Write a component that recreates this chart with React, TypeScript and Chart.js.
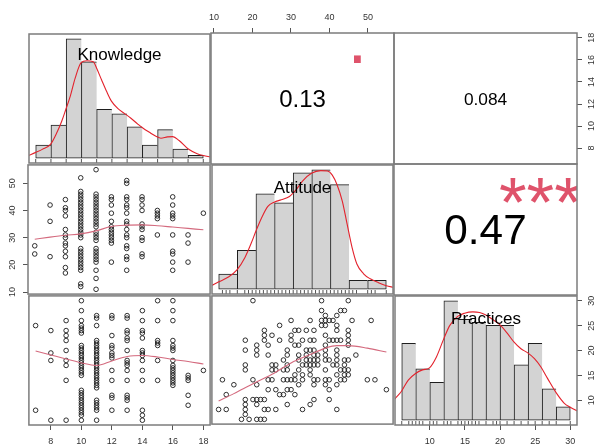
import React, { useEffect, useRef } from 'react';
import { Chart, registerables } from 'chart.js';

Chart.register(...registerables);

const FONT = '"Liberation Sans", Arial, Helvetica, sans-serif';
Chart.defaults.font.family = FONT;

// ---------------- DATA ----------------
const variableNames = ['Knowledge', 'Attitude', 'Practices'];

// axis tick labels
const knowledgeTicks = [8, 10, 12, 14, 16, 18];
const attitudeTicks = [10, 20, 30, 40, 50];
const practicesTicks = [10, 15, 20, 25, 30];

// correlations (upper panels)
const corrKnowledgeAttitude = '0.13';
const corrKnowledgePractices = '0.084';
const corrAttitudePractices = '0.47';
const signifKnowledgeAttitude = '.';
const signifKnowledgePractices = '';
const signifAttitudePractices = '***';

// histograms (density) and kernel density curves
const knowledgeBreaks = [7, 8, 9, 10, 11, 12, 13, 14, 15, 16, 17, 18];
const knowledgeHist = [0.0297, 0.0753, 0.271, 0.2189, 0.111, 0.1005, 0.0715, 0.0297, 0.0648, 0.0208, 0.0067];
const knowledgeCurveX = [6.56, 6.97, 7.43, 7.97, 8.4, 8.72, 8.98, 9.27, 9.59, 9.98, 10.35, 10.78, 11.0, 11.32, 11.65, 11.97, 12.4, 12.84, 13.27, 13.7, 14.03, 14.46, 14.89, 15.22, 15.65, 16.0, 16.41, 16.99, 17.6, 18.01, 18.46];
const knowledgeCurveY = [0.0067, 0.0127, 0.0201, 0.0313, 0.0588, 0.0849, 0.111, 0.1408, 0.1817, 0.2167, 0.2212, 0.2189, 0.204, 0.178, 0.1519, 0.1296, 0.1124, 0.1013, 0.0901, 0.0775, 0.0685, 0.0588, 0.0499, 0.0454, 0.0484, 0.0491, 0.0402, 0.0216, 0.0104, 0.006, 0.003];

const attitudeBreaks = [10, 15, 20, 25, 30, 35, 40, 45, 50, 55];
const attitudeHist = [0.0051, 0.0131, 0.0321, 0.0291, 0.0392, 0.0402, 0.0352, 0.003, 0.003];
const attitudeCurveX = [8.2, 9.88, 12.6, 14.9, 17.05, 18.8, 20.0, 21.5, 23.2, 24.9, 26.8, 29.0, 30.8, 32.5, 34.9, 37.4, 39.2, 40.5, 41.8, 43.2, 44.5, 45.8, 47.1, 48.9, 50.7, 52.9, 55.0, 57.0];
const attitudeCurveY = [0.0013, 0.0024, 0.0041, 0.0065, 0.0107, 0.0157, 0.0196, 0.024, 0.0279, 0.0293, 0.0301, 0.0312, 0.0335, 0.0364, 0.039, 0.0399, 0.0398, 0.0384, 0.0351, 0.0296, 0.0218, 0.0141, 0.0085, 0.0052, 0.0035, 0.0022, 0.0012, 0.0006];

const practicesBreaks = [6, 8, 10, 12, 14, 16, 18, 20, 22, 24, 26, 28, 30];
const practicesHist = [0.0452, 0.0302, 0.0223, 0.0702, 0.0593, 0.0575, 0.0557, 0.0557, 0.0325, 0.0452, 0.0185, 0.0078];
const practicesCurveX = [5.04, 5.94, 6.93, 7.97, 8.96, 9.95, 10.94, 11.98, 12.83, 13.96, 14.95, 16.14, 17.08, 17.98, 19.2, 20.0, 21.1, 22.0, 22.98, 23.9, 24.9, 25.8, 26.76, 28.03, 29.12, 30.0, 31.1];
const practicesCurveY = [0.0126, 0.0169, 0.0236, 0.0275, 0.0296, 0.0308, 0.0372, 0.0478, 0.0556, 0.061, 0.0629, 0.0637, 0.0633, 0.0618, 0.0585, 0.056, 0.0507, 0.0459, 0.042, 0.0397, 0.0362, 0.0314, 0.0246, 0.0159, 0.0101, 0.0076, 0.0052];

// rug marks
const knowledgeRug = [7, 8, 9, 10, 11, 12, 13, 14, 15, 16, 17, 18];
const attitudeRug = [11, 12, 13, 15, 17, 18, 19, 20, 21, 22, 23, 24, 25, 26, 27, 28, 29, 30, 31, 32, 33, 34, 35, 36, 37, 38, 39, 40, 41, 42, 43, 44, 45, 46, 47, 50, 51, 52, 55];
const practicesRug = [6, 7, 7.5, 8, 8.5, 9, 10, 10.5, 11, 12, 12.5, 13, 14, 14.5, 15, 15.5, 16, 16.5, 17, 18, 19, 19.5, 20, 21, 22, 23, 24, 25, 26, 27, 28, 30];

// scatter: Knowledge (x) vs Attitude (y)
const knowledgeLevels = [7, 8, 9, 10, 11, 12, 13, 14, 15, 16, 17, 18];
const attitudeByKnowledge = [
  [27, 24],
  [42, 36, 23],
  [44, 41, 40, 38, 33, 31, 30, 28, 27, 25, 23, 19, 17],
  [52, 47, 46, 45, 44, 43, 42, 41, 40, 39, 38, 37, 36, 35, 34, 33, 32, 31, 30, 26, 25, 24, 23, 22, 21, 20, 19, 18, 13, 12],
  [55, 46, 45, 44, 43, 42, 41, 40, 39, 38, 37, 36, 35, 34, 32, 31, 30, 29, 26, 25, 24, 23, 22, 21, 18, 15, 11],
  [45, 44, 42, 39, 36, 34, 33, 32, 31, 30, 29, 28, 21],
  [51, 50, 45, 44, 42, 41, 39, 36, 35, 33, 31, 30, 27, 26, 23, 22, 18],
  [45, 44, 42, 40, 35, 34, 33, 30, 29, 24, 23],
  [40, 39, 38, 37, 31],
  [45, 42, 39, 38, 37, 31, 25, 24, 21, 18],
  [31, 28, 21],
  [39],
];
const smoothKAx = [7, 8, 9, 10, 11, 12, 13, 14, 15, 16, 17, 18];
const smoothKAy = [29.4, 30.2, 30.9, 31.4, 32.5, 34.1, 34.6, 34.7, 34.4, 33.9, 33.4, 32.9];

// scatter: Knowledge (x) vs Practices (y)
const practicesByKnowledge = [
  [25, 8],
  [24, 19.5, 18, 6],
  [26, 24, 23, 22, 20, 18, 17, 14, 6],
  [30, 28, 26, 25, 24.5, 24, 23.5, 21, 20.5, 20, 19.5, 19, 18.5, 18, 17.5, 17, 16.5, 16, 15.5, 15, 12, 11.5, 11, 10.5, 10, 9.5, 9, 8.5, 8, 7.5, 7, 6],
  [27, 26.5, 25, 22, 21.5, 21, 20.5, 20, 19.5, 19, 18.5, 18, 17.5, 17, 16.5, 16, 15.5, 15, 14.5, 14, 13.5, 13, 12.5, 10, 9.5, 9, 8.5, 8, 6],
  [27, 26.5, 23, 21, 20.5, 19.5, 19, 18.5, 16, 14, 11, 10.5, 8],
  [27, 26.5, 24, 23.5, 22.5, 22, 20, 18, 17.5, 17, 16, 14, 11, 10.5, 10, 8],
  [28, 26, 24, 23.5, 22.5, 20, 19.5, 19, 18, 16, 14, 8, 7, 6],
  [30, 26, 22, 21.5, 21, 18, 14],
  [30, 28, 26, 22, 21, 20.5, 20, 18, 17, 16.5, 16, 15.5, 15, 14.5, 14, 13.5, 13],
  [15, 14.5, 14, 11, 9],
  [16],
];
const smoothKPx = [7, 8, 9, 10, 11, 12, 13, 14, 15, 16, 17, 18];
const smoothKPy = [19.9, 19.1, 18.3, 17.5, 17.0, 17.9, 18.8, 19.0, 18.7, 18.2, 17.8, 17.3];

// scatter: Attitude (x) vs Practices (y)
const practicesLevels = [30, 28, 27, 26, 25, 24, 23, 22, 21, 20, 19, 18, 17, 16, 15, 14, 13, 12, 11, 10, 9, 8, 7, 6];
const attitudeByPractices = [
  [20, 38, 45],
  [38, 43, 44],
  [39, 42],
  [30, 35, 38, 39, 40, 41, 46, 51],
  [27, 38, 39, 42],
  [23, 31, 32, 34, 36, 42, 45],
  [23, 25, 30, 39, 45],
  [18, 23, 27, 30, 33, 35, 36, 40, 41, 42, 43, 45],
  [21, 24, 31, 32, 39, 45],
  [18, 21, 29, 34, 35, 36, 39, 42],
  [21, 24, 29, 32, 34, 36, 37, 39, 42, 47],
  [28, 32, 34, 35, 36, 37, 39, 40, 42, 44, 45],
  [18, 25, 26, 29, 33, 34, 35, 36, 37, 41, 42, 44],
  [18, 25, 26, 28, 29, 32, 35, 39, 43, 44, 45],
  [31, 33, 35, 42, 44, 45],
  [12, 20, 24, 25, 28, 29, 30, 31, 33, 36, 37, 39, 40, 43, 44, 50, 52],
  [15, 21, 32, 36, 39, 42],
  [24, 26, 29, 30, 40, 55],
  [13, 27, 28, 31],
  [18, 20, 21, 22, 23, 36, 40],
  [18, 21, 29, 35],
  [11, 13, 18, 23, 24, 26, 33, 42],
  [18],
  [17, 19, 21, 22, 23],
];
const smoothAPx = [11, 15, 20, 25, 30, 35, 39, 42, 45, 50, 55];
const smoothAPy = [9.7, 11.2, 13.2, 15.1, 17.4, 19.1, 20.4, 20.9, 20.9, 20.4, 19.6];

// ---------------- LAYOUT / STYLE ----------------
const W = 595;
const H = 445;
const COLS = [28, 211, 394, 577];
const ROWS = [33, 164, 295, 425];
const M = 4;

const DENSITY_RED = '#E3222C';
const SMOOTH_COLOR = '#D46A7E';
const SIGNIF_COLOR = '#DF536B';
const BOX_COLOR = '#7c7c7c';

type Sides = { top?: boolean; bottom?: boolean; left?: boolean; right?: boolean };
type TextItem = { text: string; fx: number; fy: number; size: number; color: string };

function geometry(r: number, c: number, s: Sides) {
  const x0 = COLS[c], x1 = COLS[c + 1], y0 = ROWS[r], y1 = ROWS[r + 1];
  const left = s.left ? 0 : x0 - M;
  const right = s.right ? W : x1 + M;
  const top = s.top ? 0 : y0 - M;
  const bottom = s.bottom ? H : y1 + M;
  return {
    canvas: { left, top, width: right - left, height: bottom - top },
    padding: { left: s.left ? 0 : M, right: s.right ? 0 : M, top: s.top ? 0 : M, bottom: s.bottom ? 0 : M },
    axis: { left: x0 - left, right: right - x1, top: y0 - top, bottom: bottom - y1 },
  };
}

function ext(lo: number, hi: number): [number, number] {
  const d = (hi - lo) * 0.04;
  return [lo - d, hi + d];
}

const knowledgeRange = ext(Math.min(...knowledgeLevels), Math.max(...knowledgeLevels));
const allAttitude = [...attitudeByKnowledge.flat(), ...attitudeByPractices.flat()];
const attitudeRange = ext(Math.min(...allAttitude), Math.max(...allAttitude));
const allPractices = [...practicesByKnowledge.flat(), ...practicesLevels];
const practicesRange = ext(Math.min(...allPractices), Math.max(...allPractices));

function hiddenScale(axis: 'x' | 'y', range: [number, number], ticks?: number[]) {
  return {
    type: 'linear',
    axis,
    display: false,
    min: range[0],
    max: range[1],
    offset: false,
    grid: { offset: false },
    afterBuildTicks: (s: any) => {
      if (ticks) s.ticks = ticks.map((v) => ({ value: v }));
    },
  };
}

function axisScale(position: string, range: [number, number], ticks: number[], size: number, padding: number) {
  const vertical = position === 'left' || position === 'right';
  return {
    type: 'linear',
    axis: vertical ? 'y' : 'x',
    display: true,
    position,
    min: range[0],
    max: range[1],
    offset: false,
    grid: { display: true, drawOnChartArea: false, drawTicks: true, tickLength: 5, color: '#555', lineWidth: 1, offset: false },
    border: { display: false },
    ticks: {
      font: { family: FONT, size: 9 },
      color: '#333',
      padding,
      autoSkip: false,
      includeBounds: false,
      minRotation: vertical ? 90 : 0,
      maxRotation: vertical ? 90 : 0,
      crossAlign: vertical ? 'center' : 'near',
      callback: (v: any) => String(v),
    },
    afterBuildTicks: (s: any) => {
      s.ticks = ticks.map((v) => ({ value: v }));
    },
    afterFit: (s: any) => {
      if (vertical) s.width = size;
      else s.height = size;
      s.paddingLeft = 0;
      s.paddingRight = 0;
      s.paddingTop = 0;
      s.paddingBottom = 0;
    },
  };
}

function textPlugin(items: TextItem[]) {
  return {
    id: 'panelText',
    afterDatasetsDraw(chart: any) {
      const { ctx, chartArea: a } = chart;
      ctx.save();
      ctx.beginPath();
      ctx.rect(a.left, a.top, a.right - a.left, a.bottom - a.top);
      ctx.clip();
      for (const t of items) {
        if (!t.text) continue;
        ctx.font = `${t.size}px ${FONT}`;
        ctx.fillStyle = t.color;
        ctx.textAlign = 'center';
        ctx.textBaseline = 'alphabetic';
        const m = ctx.measureText(t.text);
        const x = a.left + t.fx * (a.right - a.left);
        const yc = a.bottom - t.fy * (a.bottom - a.top);
        const y = yc + (m.actualBoundingBoxAscent - m.actualBoundingBoxDescent) / 2;
        ctx.fillText(t.text, x, y);
      }
      ctx.restore();
    },
  };
}

const boxPlugin = {
  id: 'panelBox',
  afterDraw(chart: any) {
    const { ctx, chartArea: a } = chart;
    ctx.save();
    ctx.strokeStyle = BOX_COLOR;
    ctx.lineWidth = 1.5;
    ctx.strokeRect(a.left, a.top, a.right - a.left, a.bottom - a.top);
    ctx.restore();
  },
};

function baseOptions(padding: any, scales: any) {
  return {
    responsive: false,
    animation: false,
    devicePixelRatio: 1,
    events: [],
    layout: { padding },
    plugins: { legend: { display: false }, tooltip: { enabled: false }, title: { display: false } },
    scales,
  };
}

function histDatasets(breaks: number[], hist: number[], cx: number[], cy: number[], rug: number[], yMin: number) {
  const centers = hist.map((_, i) => (breaks[i] + breaks[i + 1]) / 2);
  const last = hist.length - 1;
  return [
    {
      type: 'line',
      data: cx.map((x, i) => ({ x, y: cy[i] })),
      borderColor: DENSITY_RED,
      borderWidth: 1.1,
      pointRadius: 0,
      tension: 0.35,
      cubicInterpolationMode: 'monotone',
      fill: false,
      order: 0,
      yAxisID: 'y',
    },
    {
      type: 'scatter',
      data: rug.map((x) => ({ x, y: yMin })),
      pointStyle: 'line',
      pointRotation: 90,
      pointRadius: 4,
      pointBorderWidth: 1,
      pointBorderColor: '#555',
      order: 1,
      yAxisID: 'y',
    },
    {
      type: 'bar',
      data: centers.map((x, i) => ({ x, y: hist[i] })),
      backgroundColor: '#D3D3D3',
      borderColor: '#1e1e1e',
      borderWidth: (c: any) => ({ top: 1, left: 1, bottom: 1, right: c.dataIndex === last ? 1 : 0 }),
      borderSkipped: false,
      barPercentage: 1,
      categoryPercentage: 1,
      grouped: false,
      order: 2,
      yAxisID: 'y',
    },
  ];
}

function scatterDatasets(points: { x: number; y: number }[], sx: number[], sy: number[]) {
  return [
    {
      type: 'line',
      data: sx.map((x, i) => ({ x, y: sy[i] })),
      borderColor: SMOOTH_COLOR,
      borderWidth: 1.1,
      pointRadius: 0,
      tension: 0.4,
      cubicInterpolationMode: 'monotone',
      fill: false,
      order: 0,
    },
    {
      type: 'scatter',
      data: points,
      pointStyle: 'circle',
      pointRadius: 2.3,
      pointBorderWidth: 0.9,
      pointBorderColor: '#1a1a1a',
      pointBackgroundColor: 'rgba(0,0,0,0)',
      order: 1,
    },
  ];
}

function histYRange(hist: number[]): [number, number] {
  return ext(0, Math.max(...hist));
}

type Panel = { key: string; geo: ReturnType<typeof geometry>; build: () => any };

function makePanels(): Panel[] {
  const panels: Panel[] = [];
  const labelText = (name: string): TextItem => ({ text: name, fx: 0.5, fy: 0.5 + 1 / 3, size: 17, color: '#000' });

  // Row 1
  {
    const geo = geometry(0, 0, {});
    panels.push({
      key: 'k-hist', geo,
      build: () => {
        const yr = histYRange(knowledgeHist);
        return {
          type: 'scatter',
          data: { datasets: histDatasets(knowledgeBreaks, knowledgeHist, knowledgeCurveX, knowledgeCurveY, knowledgeRug, yr[0]) },
          options: baseOptions(geo.padding, {
            x: hiddenScale('x', ext(knowledgeBreaks[0], knowledgeBreaks[knowledgeBreaks.length - 1]), knowledgeBreaks),
            y: hiddenScale('y', yr),
          }),
          plugins: [textPlugin([labelText(variableNames[0])]), boxPlugin],
        };
      },
    });
  }
  {
    const geo = geometry(0, 1, { top: true });
    panels.push({
      key: 'ka-cor', geo,
      build: () => ({
        type: 'scatter',
        data: { datasets: [] },
        options: baseOptions(geo.padding, {
          x: axisScale('top', attitudeRange, attitudeTicks, geo.axis.top, 5),
          y: hiddenScale('y', [0, 1]),
        }),
        plugins: [
          textPlugin([
            { text: corrKnowledgeAttitude, fx: 0.5, fy: 0.5, size: 24, color: '#000' },
            { text: signifKnowledgeAttitude, fx: 0.8, fy: 0.8, size: 71, color: SIGNIF_COLOR },
          ]),
          boxPlugin,
        ],
      }),
    });
  }
  {
    const geo = geometry(0, 2, { right: true });
    panels.push({
      key: 'kp-cor', geo,
      build: () => ({
        type: 'scatter',
        data: { datasets: [] },
        options: baseOptions(geo.padding, {
          x: hiddenScale('x', [0, 1]),
          y: axisScale('right', knowledgeRange, knowledgeTicks, geo.axis.right, 5),
        }),
        plugins: [
          textPlugin([
            { text: corrKnowledgePractices, fx: 0.5, fy: 0.5, size: 17.3, color: '#000' },
            { text: signifKnowledgePractices, fx: 0.8, fy: 0.8, size: 71, color: SIGNIF_COLOR },
          ]),
          boxPlugin,
        ],
      }),
    });
  }
  // Row 2
  {
    const geo = geometry(1, 0, { left: true });
    panels.push({
      key: 'ka-scatter', geo,
      build: () => {
        const pts = knowledgeLevels.flatMap((k, i) => attitudeByKnowledge[i].map((a) => ({ x: k, y: a })));
        return {
          type: 'scatter',
          data: { datasets: scatterDatasets(pts, smoothKAx, smoothKAy) },
          options: baseOptions(geo.padding, {
            x: hiddenScale('x', knowledgeRange, knowledgeTicks),
            y: axisScale('left', attitudeRange, attitudeTicks, geo.axis.left, 5),
          }),
          plugins: [boxPlugin],
        };
      },
    });
  }
  {
    const geo = geometry(1, 1, {});
    panels.push({
      key: 'a-hist', geo,
      build: () => {
        const yr = histYRange(attitudeHist);
        return {
          type: 'scatter',
          data: { datasets: histDatasets(attitudeBreaks, attitudeHist, attitudeCurveX, attitudeCurveY, attitudeRug, yr[0]) },
          options: baseOptions(geo.padding, {
            x: hiddenScale('x', ext(attitudeBreaks[0], attitudeBreaks[attitudeBreaks.length - 1]), attitudeBreaks),
            y: hiddenScale('y', yr),
          }),
          plugins: [textPlugin([labelText(variableNames[1])]), boxPlugin],
        };
      },
    });
  }
  {
    const geo = geometry(1, 2, {});
    panels.push({
      key: 'ap-cor', geo,
      build: () => ({
        type: 'scatter',
        data: { datasets: [] },
        options: baseOptions(geo.padding, {
          x: hiddenScale('x', [0, 1]),
          y: hiddenScale('y', [0, 1]),
        }),
        plugins: [
          textPlugin([
            { text: corrAttitudePractices, fx: 0.5, fy: 0.5, size: 42.3, color: '#000' },
            { text: signifAttitudePractices, fx: 0.8, fy: 0.8, size: 71, color: SIGNIF_COLOR },
          ]),
          boxPlugin,
        ],
      }),
    });
  }
  // Row 3
  {
    const geo = geometry(2, 0, { bottom: true });
    panels.push({
      key: 'kp-scatter', geo,
      build: () => {
        const pts = knowledgeLevels.flatMap((k, i) => practicesByKnowledge[i].map((p) => ({ x: k, y: p })));
        return {
          type: 'scatter',
          data: { datasets: scatterDatasets(pts, smoothKPx, smoothKPy) },
          options: baseOptions(geo.padding, {
            x: axisScale('bottom', knowledgeRange, knowledgeTicks, geo.axis.bottom, 6),
            y: hiddenScale('y', practicesRange, practicesTicks),
          }),
          plugins: [boxPlugin],
        };
      },
    });
  }
  {
    const geo = geometry(2, 1, {});
    panels.push({
      key: 'ap-scatter', geo,
      build: () => {
        const pts = practicesLevels.flatMap((p, i) => attitudeByPractices[i].map((a) => ({ x: a, y: p })));
        return {
          type: 'scatter',
          data: { datasets: scatterDatasets(pts, smoothAPx, smoothAPy) },
          options: baseOptions(geo.padding, {
            x: hiddenScale('x', attitudeRange, attitudeTicks),
            y: hiddenScale('y', practicesRange, practicesTicks),
          }),
          plugins: [boxPlugin],
        };
      },
    });
  }
  {
    const geo = geometry(2, 2, { bottom: true, right: true });
    panels.push({
      key: 'p-hist', geo,
      build: () => {
        const yr = histYRange(practicesHist);
        return {
          type: 'scatter',
          data: { datasets: histDatasets(practicesBreaks, practicesHist, practicesCurveX, practicesCurveY, practicesRug, yr[0]) },
          options: baseOptions(geo.padding, {
            x: axisScale('bottom', ext(practicesBreaks[0], practicesBreaks[practicesBreaks.length - 1]), practicesTicks, geo.axis.bottom, 6),
            y: hiddenScale('y', yr),
            yP: axisScale('right', practicesRange, practicesTicks, geo.axis.right, 5),
          }),
          plugins: [textPlugin([labelText(variableNames[2])]), boxPlugin],
        };
      },
    });
  }
  return panels;
}

const PANELS = makePanels();

export default function App() {
  const refs = useRef<(HTMLCanvasElement | null)[]>([]);

  useEffect(() => {
    const charts = PANELS.map((p, i) => new Chart(refs.current[i] as HTMLCanvasElement, p.build()));
    return () => {
      charts.forEach((c) => c.destroy());
    };
  }, []);

  return (
    <div style={{ position: 'absolute', left: 0, top: 0, width: W, height: H, background: '#fff', overflow: 'hidden' }}>
      {PANELS.map((p, i) => (
        <canvas
          key={p.key}
          ref={(el) => {
            refs.current[i] = el;
          }}
          width={p.geo.canvas.width}
          height={p.geo.canvas.height}
          style={{
            position: 'absolute',
            left: p.geo.canvas.left,
            top: p.geo.canvas.top,
            width: p.geo.canvas.width,
            height: p.geo.canvas.height,
          }}
        />
      ))}
    </div>
  );
}
